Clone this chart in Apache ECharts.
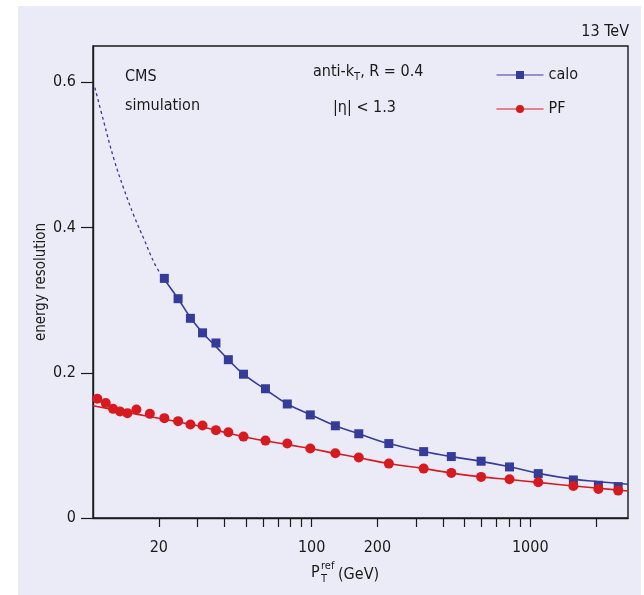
<!DOCTYPE html>
<html>
<head>
<meta charset="utf-8">
<script src="https://cdn.jsdelivr.net/npm/echarts@6/dist/echarts.min.js"></script>
<style>
html,body{margin:0;padding:0;background:#ffffff;}
#bg{position:absolute;left:18px;top:6px;width:623px;height:589px;background:#ebebf7;}
#chart{position:absolute;left:0;top:0;width:644px;height:595px;}
</style>
</head>
<body>
<div id="bg"></div>
<div id="chart"></div>
<script>
// ---- data ----
const caloPt  = [21.2, 24.5, 27.9, 31.7, 36.5, 41.6, 48.8, 61.5, 77.4, 98.6, 128.4, 164.3, 225.5, 325.4, 435.5, 596, 804, 1088, 1575, 2050, 2525];
const caloRes = [0.330, 0.302, 0.275, 0.255, 0.241, 0.218, 0.198, 0.178, 0.157, 0.142, 0.127, 0.116, 0.1025, 0.0914, 0.0846, 0.0782, 0.0703, 0.0611, 0.0524, 0.0451, 0.0432];

const pfPt  = [10.47, 11.44, 12.35, 13.30, 14.37, 15.80, 18.2, 21.2, 24.5, 27.9, 31.7, 36.5, 41.6, 48.8, 61.5, 77.4, 98.6, 128.4, 164.3, 225.5, 325.4, 435.5, 596, 804, 1088, 1575, 2050, 2525];
const pfRes = [0.1641, 0.1582, 0.1503, 0.1466, 0.1444, 0.1494, 0.1434, 0.1375, 0.1334, 0.1287, 0.1273, 0.1210, 0.1182, 0.1121, 0.1066, 0.1025, 0.0956, 0.0892, 0.0832, 0.0749, 0.0680, 0.0621, 0.0566, 0.0534, 0.0492, 0.0441, 0.0400, 0.0377];

// fitted curves
const caloFitPt  = [20.46, 24.5, 27.9, 31.7, 36.5, 41.6, 48.8, 61.5, 77.4, 98.6, 128.4, 164.3, 225.5, 325.4, 435.5, 596, 804, 1088, 1575, 2050, 2800];
const caloFitRes = [0.335, 0.302, 0.276, 0.255, 0.236, 0.218, 0.198, 0.177, 0.157, 0.1425, 0.127, 0.116, 0.1025, 0.0915, 0.0845, 0.078, 0.0705, 0.0615, 0.0535, 0.0500, 0.0465];
const caloExtPt  = [10.2, 11.23, 12.48, 13.87, 15.42, 17.14, 19.05, 20.46];
const caloExtRes = [0.5927, 0.5444, 0.4938, 0.4524, 0.4156, 0.3834, 0.3513, 0.3352];
const pfFitPt  = [10, 12.5, 15.8, 21.2, 27.9, 36.5, 48.8, 77.4, 98.6, 128.4, 164.3, 225.5, 325.4, 435.5, 596, 804, 1088, 1575, 2050, 2800];
const pfFitRes = [0.1545, 0.149, 0.143, 0.136, 0.129, 0.121, 0.112, 0.101, 0.0956, 0.089, 0.083, 0.075, 0.068, 0.062, 0.0566, 0.053, 0.049, 0.044, 0.041, 0.0372];

const xTickValues  = [20, 30, 40, 50, 60, 70, 80, 90, 100, 200, 300, 400, 500, 600, 700, 800, 900, 1000, 2000];
const xLabelValues = [20, 100, 200, 1000];
const yTickValues  = [0, 0.2, 0.4, 0.6];

const BLUE = '#353b98';
const RED = '#d71a20';
const INK = '#1a1a1a';
const FONT = '"Liberation Sans Narrow", "DejaVu Sans Condensed", "Liberation Sans", sans-serif';

const zip = (a, b) => a.map((v, i) => [v, b[i]]);

const chart = echarts.init(document.getElementById('chart'));
chart.setOption({
  backgroundColor: 'transparent',
  animation: false,
  textStyle: { fontFamily: FONT, color: INK },
  grid: { left: 93, right: 16, top: 46, bottom: 77, show: true, borderColor: INK, borderWidth: 1.4, backgroundColor: 'transparent' },
  legend: {
    data: ['calo', 'PF'],
    orient: 'vertical',
    left: 491, top: 62,
    itemWidth: 47, itemHeight: 10, itemGap: 18,
    lineStyle: { width: 1 },
    textStyle: { fontFamily: FONT, fontSize: 16, color: INK }
  },
  xAxis: {
    type: 'log', logBase: 10, min: 10, max: 2800,
    axisLine: { show: true, lineStyle: { color: INK, width: 1.4 } },
    axisTick: { show: true, inside: false, length: 9, lineStyle: { color: INK, width: 1.2 }, customValues: xTickValues },
    axisLabel: { fontFamily: FONT, fontSize: 16, color: INK, margin: 22, customValues: xLabelValues, formatter: v => String(Math.round(v)) },
    splitLine: { show: false },
    minorTick: { show: false }
  },
  yAxis: {
    type: 'value', min: 0, max: 0.65,
    name: 'energy resolution', nameLocation: 'middle', nameGap: 44, nameRotate: 90, nameMoveOverlap: false,
    nameTextStyle: { fontFamily: FONT, fontSize: 15, color: INK },
    axisLine: { show: true, lineStyle: { color: INK, width: 1.4 } },
    axisTick: { show: true, inside: false, length: 12, lineStyle: { color: INK, width: 1.2 }, customValues: yTickValues },
    axisLabel: { fontFamily: FONT, fontSize: 16, color: INK, margin: 17, customValues: yTickValues },
    splitLine: { show: false }
  },
  series: [
    { name: 'calo', type: 'line', data: zip(caloFitPt, caloFitRes), smooth: 0.4, showSymbol: false, symbol: 'rect', symbolSize: 8,
      itemStyle: { color: BLUE }, lineStyle: { color: BLUE, width: 1.6 }, z: 2 },
    { name: 'calo ext', type: 'line', data: zip(caloExtPt, caloExtRes), smooth: 0.4, showSymbol: false,
      itemStyle: { color: BLUE }, lineStyle: { color: BLUE, width: 1.3, type: [3, 3] }, z: 2 },
    { name: 'calo points', type: 'scatter', data: zip(caloPt, caloRes), symbol: 'rect', symbolSize: 9,
      itemStyle: { color: BLUE, opacity: 1 }, z: 3 },
    { name: 'PF', type: 'line', data: zip(pfFitPt, pfFitRes), smooth: 0.4, showSymbol: false, symbol: 'circle', symbolSize: 9,
      itemStyle: { color: RED }, lineStyle: { color: RED, width: 1.6 }, z: 2 },
    { name: 'PF points', type: 'scatter', data: zip(pfPt, pfRes), symbol: 'circle', symbolSize: 10,
      itemStyle: { color: RED, opacity: 1 }, z: 3 }
  ],
  graphic: [
    { type: 'text', left: 125, top: 69, style: { text: 'CMS', font: '16px ' + FONT, fill: INK } },
    { type: 'text', left: 125, top: 98, style: { text: 'simulation', font: '16px ' + FONT, fill: INK } },
    { type: 'text', left: 313, top: 64, style: {
        text: '{n|anti-k}{s|T}{n|, R = 0.4}', fill: INK,
        rich: { n: { fontSize: 16, fontFamily: FONT, lineHeight: 22, verticalAlign: 'middle' },
                s: { fontSize: 11, fontFamily: FONT, lineHeight: 22, verticalAlign: 'bottom' } } } },
    { type: 'text', left: 333, top: 100, style: { text: '|η| < 1.3', font: '16px ' + FONT, fill: INK } },
    { type: 'text', right: 15, top: 24, style: { text: '13 TeV', font: '16px ' + FONT, fill: INK } },
    { type: 'text', left: 311, top: 565, style: { text: 'P', font: '16px ' + FONT, fill: INK } },
    { type: 'text', left: 321, top: 561, style: { text: 'ref', font: '11px ' + FONT, fill: INK } },
    { type: 'text', left: 321, top: 574, style: { text: 'T', font: '11px ' + FONT, fill: INK } },
    { type: 'text', left: 338, top: 567, style: { text: '(GeV)', font: '16px ' + FONT, fill: INK } }
  ]
});
</script>
</body>
</html>
